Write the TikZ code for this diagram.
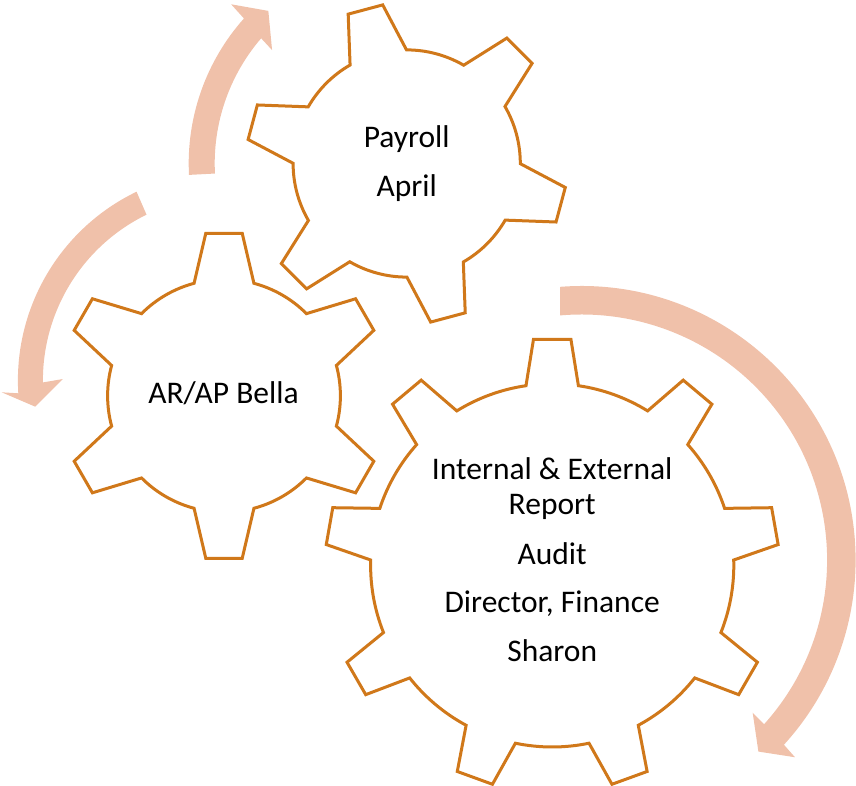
\documentclass[tikz,border=0pt]{standalone}
\usepackage{fontspec}
\setmainfont{Carlito}
\definecolor{gearline}{RGB}{208,120,26}
\definecolor{arrowfill}{RGB}{240,193,170}

% gear outline: centre x, centre y, teeth, first tooth angle,
% tip radius, root radius, tip half-angle, root half-angle
\newcommand\drawgear[8]{%
  \begin{scope}[shift={(#1,#2)}]
    \draw[gearshape] ({#4-#8}:#6pt)
      \foreach \k [evaluate=\k as \ang using #4+(\k-1)*360/#3] in {1,...,#3} {
        -- ({\ang-#7}:#5pt) -- ({\ang+#7}:#5pt) -- ({\ang+#8}:#6pt)
        arc[start angle={\ang+#8}, end angle={\ang+360/#3-#8}, radius=#6pt]
      } -- cycle;
  \end{scope}}

\begin{document}
\begin{tikzpicture}[x=1pt,y=1pt,
  gearshape/.style={draw=gearline, line width=3pt, fill=white, line join=miter},
  cyclearrow/.style={fill=arrowfill, draw=none},
  geartext/.style={font=\fontsize{31.5}{36}\selectfont, anchor=base, inner sep=0pt, text=black}]
\useasboundingbox (0,0) rectangle (856,786);

% curved arrows
\begin{scope}[shift={(406.7,622.5)}]
  \fill[cyclearrow] (183:218pt) arc[start angle=183, end angle=138.3, radius=218pt]
    -- (137.8:237pt) -- (132.2:206pt) -- (139.9:176pt) -- (139.3:192pt)
    arc[start angle=139.3, end angle=183, radius=192pt] -- cycle;
\end{scope}
\begin{scope}[shift={(227.4,405.5)}]
  \fill[cyclearrow] (115.7:209.5pt) arc[start angle=115.7, end angle=183.5, radius=209.5pt]
    -- (183:226pt) -- (187.75:194pt) -- (179.5:164.7pt) -- (180.6:184.5pt)
    arc[start angle=180.6, end angle=116, radius=184.5pt] -- cycle;
\end{scope}
\begin{scope}[shift={(581.6,226)}]
  \fill[cyclearrow] (94.5:274pt) arc[start angle=94.5, end angle=-42.4, radius=274pt]
    -- (-42.75:290.6pt) -- (-47.3:260.7pt) -- (-41.75:229.3pt) -- (-42:245.5pt)
    arc[start angle=-42, end angle=95, radius=245.5pt] -- cycle;
\end{scope}

% gears
\drawgear{552.2}{220.6}{9}{90}{226.9}{181.6}{4.73}{8.3}
\drawgear{224}{390.2}{6}{90}{163.5}{116.4}{6.4}{14.9}
\drawgear{406.7}{622.5}{6}{105}{160.4}{113.6}{6.4}{14.9}

% texts
\node[geartext] (payroll) at (406.7,638.3) {Payroll};
\node[geartext] (april) at (406.7,589.3) {April};
\node[geartext] (arap) at (223.5,382) {AR/AP Bella};
\node[geartext] (report1) at (552.2,306.7) {Internal \& External};
\node[geartext] (report2) at (552.2,271) {Report};
\node[geartext] (audit) at (552.2,221.7) {Audit};
\node[geartext] (director) at (552.2,173.7) {Director, Finance};
\node[geartext] (sharon) at (552.2,124.3) {Sharon};
\end{tikzpicture}
\end{document}
